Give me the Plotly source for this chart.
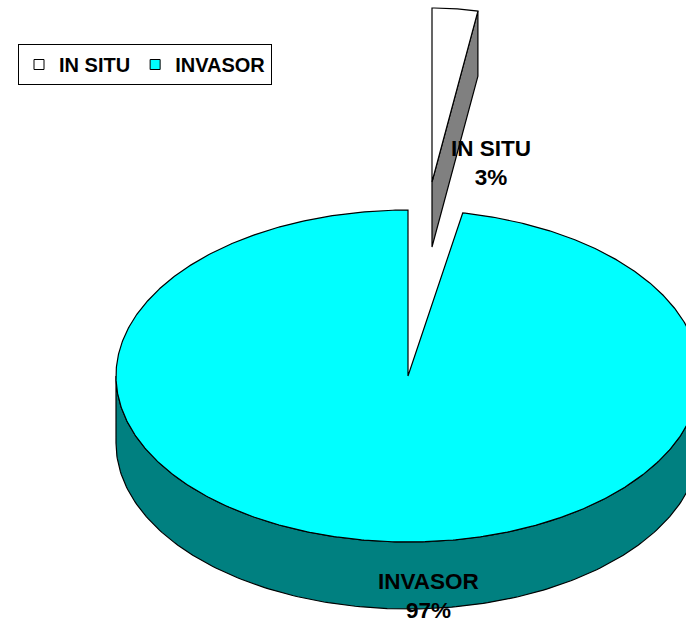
import numpy as np
import plotly.graph_objects as go

# ---- data ----
categories = ["IN SITU", "INVASOR"]
values = [3, 97]

# ---- styles ----
top_colors = ["#FFFFFF", "#00FFFF"]
side_colors = ["#808080", "#008080"]
FONT = "Arial, Liberation Sans, sans-serif"

# ---- geometry (screen-like units, y axis reversed) ----
W, H = 686, 623
MAIN = dict(cx=408, cy=376, rx=292, ry=166, depth=67)
EXPLODED = dict(cx=432, cy=182, rx=245, ry=174, depth=65)
slice_geom = [EXPLODED, MAIN]          # IN SITU is pulled out
label_pos = [(491, 163), (428, 596)]
label_size = 22.5


def pt(g, th, dz=0.0):
    return g["cx"] + g["rx"] * np.sin(th), g["cy"] - g["ry"] * np.cos(th) + dz


fig = go.Figure()

total = float(sum(values))
bounds = np.concatenate([[0.0], np.cumsum(values) / total * 2 * np.pi])

traces_by_slice = []
for i, (cat, v) in enumerate(zip(categories, values)):
    g = slice_geom[i]
    a0, a1 = bounds[i], bounds[i + 1]
    d = g["depth"]
    polys = []
    # outer wall (front half only: angles 90..270 deg)
    s0, s1 = max(a0, np.pi / 2), min(a1, 3 * np.pi / 2)
    if s1 > s0:
        th = np.linspace(s0, s1, 200)
        xt, yt = pt(g, th)
        xb, yb = pt(g, th[::-1], d)
        polys.append((np.r_[xt, xb, xt[0]], np.r_[yt, yb, yt[0]], side_colors[i]))
    # radial faces
    for ang, visible in ((a1, np.sin(a1) > 1e-9), (a0, np.sin(a0) < -1e-9)):
        if visible:
            ox, oy = pt(g, ang)
            px = [g["cx"], ox, ox, g["cx"], g["cx"]]
            py = [g["cy"], oy, oy + d, g["cy"] + d, g["cy"]]
            polys.append((np.array(px), np.array(py), side_colors[i]))
    # top face
    th = np.linspace(a0, a1, max(20, int((a1 - a0) / (2 * np.pi) * 720)))
    xa, ya = pt(g, th)
    polys.append((np.r_[g["cx"], xa, g["cx"]], np.r_[g["cy"], ya, g["cy"]], top_colors[i]))
    traces_by_slice.append(polys)

# draw main pie first, exploded slice on top
for i in [1, 0]:
    for x, y, c in traces_by_slice[i]:
        fig.add_trace(go.Scatter(
            x=x, y=y, mode="lines", fill="toself", fillcolor=c,
            line=dict(color="black", width=1.2), showlegend=False, hoverinfo="skip"))

# legend entries
for i, cat in enumerate(categories):
    fig.add_trace(go.Scatter(
        x=[None], y=[None], mode="markers", name=cat,
        marker=dict(symbol="square", size=10, color=top_colors[i],
                    line=dict(color="black", width=1))))

# labels
for i, (cat, v) in enumerate(zip(categories, values)):
    fig.add_annotation(x=label_pos[i][0], y=label_pos[i][1], text=f"{cat}<br>{v}%",
                       showarrow=False, xanchor="center", yanchor="middle",
                       font=dict(family=FONT, size=label_size, color="black", weight="bold"))

fig.update_layout(
    width=W, height=H, margin=dict(l=0, r=0, t=0, b=0),
    paper_bgcolor="white", plot_bgcolor="white",
    xaxis=dict(range=[0, W], visible=False, fixedrange=True),
    yaxis=dict(range=[H, 0], visible=False, fixedrange=True),
    showlegend=True,
    legend=dict(orientation="h", x=18 / W, y=1 - 44 / H, xanchor="left", yanchor="top",
                bgcolor="white", bordercolor="black", borderwidth=1,
                font=dict(family=FONT, size=20, color="black", weight="bold"),
                itemwidth=30, tracegroupgap=0),
)

fig.write_html("out.html", config={"displayModeBar": False},
               post_script="document.body.style.margin='0';document.body.style.overflow='hidden';")
